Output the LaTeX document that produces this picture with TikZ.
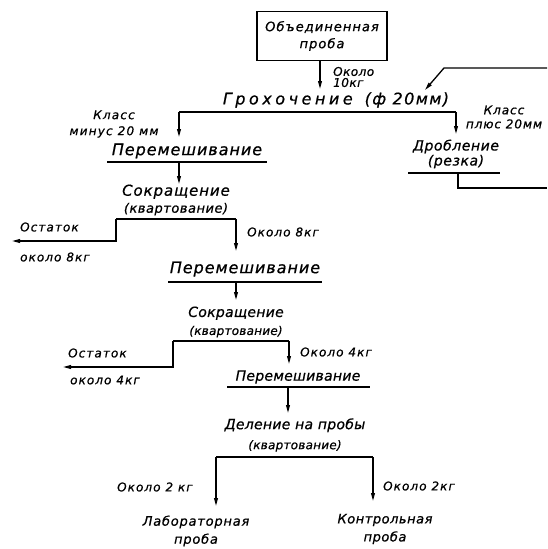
\documentclass[tikz,border=0pt]{standalone}
\usepackage{fontspec}
\setmainfont{DejaVu Sans}[ItalicFeatures={FakeBold=0.7}]
\usetikzlibrary{arrows.meta}
\tikzset{
  big/.style={font=\fontsize{16}{17}\selectfont\itshape\addfontfeature{LetterSpace=6}, inner sep=0pt, align=center},
  mid/.style={font=\fontsize{13}{16}\selectfont\itshape\addfontfeature{LetterSpace=8}, inner sep=0pt, align=center},
  sml/.style={font=\fontsize{12}{12}\selectfont\itshape\addfontfeature{LetterSpace=9}, inner sep=0pt, align=left},
  conn/.style={line width=1.3pt},
  arr/.style={line width=1.3pt, -{Triangle[length=8pt,width=3.8pt]}},
  uline/.style={line width=2.2pt},
  boxst/.style={draw, line width=1.7pt, minimum width=130pt, minimum height=49pt, inner sep=0pt, align=center,
    font=\fontsize{13}{17}\selectfont\itshape\addfontfeature{LetterSpace=8}},
}
\begin{document}
\begin{tikzpicture}[x=1pt,y=-1pt]
\useasboundingbox[fill=white] (0,0) rectangle (547,549);
% source box
\node[boxst] (src) at (322,36) {Объединенная\\проба};
\node[sml, anchor=west, font=\fontsize{12}{11}\selectfont\itshape\addfontfeature{LetterSpace=4}] (ok10) at (333,77) {Около\\10кг};
\node[big] (grokh) at (336,100) {{\addfontfeature{LetterSpace=22}Грохочение}\hspace{12pt}{\addfontfeature{LetterSpace=9}(ф 20мм)}};
\coordinate (g1) at (320,61);
\coordinate (g2) at (320,89);
\draw[arr] (g1) -- (g2);
% screening line
\coordinate (gL) at (179,112);
\coordinate (gR) at (456,112);
\draw[conn] (gL) -- (gR);
\node[sml, align=center, font=\fontsize{12}{16}\selectfont\itshape\addfontfeature{LetterSpace=10}] (kmin) at (114,124) {Класс\\минус 20 мм};
\node[sml, align=center, font=\fontsize{12}{14}\selectfont\itshape\addfontfeature{LetterSpace=8}] (kplus) at (504,117) {Класс\\плюс 20мм};
% left branch
\node[big] (mix1) at (187,151) {Перемешивание};
\coordinate (m1a) at (107,162);
\coordinate (m1b) at (267,162);
\draw[uline] (m1a) -- (m1b);
\coordinate (a1) at (179,137);
\draw[arr] (gL) -- (a1);
\coordinate (m1c) at (179,162);
\coordinate (a2) at (179,184);
\draw[arr] (m1c) -- (a2);
% right branch: crushing
\coordinate (a3) at (456,134);
\draw[arr] (gR) -- (a3);
\node[mid, font=\fontsize{14}{15}\selectfont\itshape\addfontfeature{LetterSpace=4}] (drob) at (456,154) {Дробление\\(резка)};
\coordinate (d1) at (408,173);
\coordinate (d2) at (500,173);
\draw[uline] (d1) -- (d2);
\coordinate (d3) at (458,173);
\coordinate (d4) at (458,188);
\coordinate (d5) at (547,188);
\draw[conn] (d3) -- (d4) -- (d5);
\coordinate (r1) at (547,68);
\coordinate (r2) at (444,68);
\coordinate (r3) at (425,90);
\draw[arr] (r1) -- (r2) -- (r3);
% first reduction
\node[big, font=\fontsize{15}{17}\selectfont\itshape\addfontfeature{LetterSpace=6}] (sok1) at (176,200) {Сокращение\\{\fontsize{13}{13}\selectfont\addfontfeature{LetterSpace=4}(квартование)}};
\coordinate (s1L) at (116,219);
\coordinate (s1R) at (236,219);
\draw[conn] (s1L) -- (s1R);
\coordinate (s1c) at (116,241);
\coordinate (s1d) at (12,241);
\draw[arr] (s1L) -- (s1c) -- (s1d);
\node[sml, anchor=west] (ost1) at (20,227) {Остаток};
\node[sml, anchor=west] (ok8a) at (20,257) {около 8кг};
\coordinate (s1e) at (236,251);
\draw[arr] (s1R) -- (s1e);
\node[sml, anchor=west] (ok8b) at (247,232) {Около 8кг};
% second mixing
\node[big] (mix2) at (245,269) {Перемешивание};
\coordinate (m2a) at (168,282);
\coordinate (m2b) at (322,282);
\draw[uline] (m2a) -- (m2b);
\coordinate (m2c) at (236,282);
\coordinate (m2d) at (236,300);
\draw[arr] (m2c) -- (m2d);
% second reduction
\node[mid, font=\fontsize{14}{18}\selectfont\itshape\addfontfeature{LetterSpace=2}] (sok2) at (236,322) {Сокращение\\{\fontsize{12}{12}\selectfont\addfontfeature{LetterSpace=2}(квартование)}};
\coordinate (s2L) at (173,341);
\coordinate (s2R) at (289,341);
\draw[conn] (s2L) -- (s2R);
\coordinate (s2c) at (173,367);
\coordinate (s2d) at (63,367);
\draw[arr] (s2L) -- (s2c) -- (s2d);
\node[sml, anchor=west] (ost2) at (68,353) {Остаток};
\node[sml, anchor=west] (ok4a) at (70,380) {около 4кг};
\coordinate (s2e) at (289,364);
\draw[arr] (s2R) -- (s2e);
\node[sml, anchor=west] (ok4b) at (300,352) {Около 4кг};
% third mixing
\node[mid, font=\fontsize{14}{15}\selectfont\itshape\addfontfeature{LetterSpace=2}] (mix3) at (298,377) {Перемешивание};
\coordinate (m3a) at (227,387);
\coordinate (m3b) at (370,387);
\draw[uline] (m3a) -- (m3b);
\coordinate (m3c) at (288,387);
\coordinate (m3d) at (288,413);
\draw[arr] (m3c) -- (m3d);
% division
\node[mid, font=\fontsize{14}{20}\selectfont\itshape\addfontfeature{LetterSpace=2}] (del) at (295,435) {Деление на пробы\\{\fontsize{12}{12}\selectfont\addfontfeature{LetterSpace=2}(квартование)}};
\coordinate (dL) at (216,457);
\coordinate (dR) at (373,457);
\draw[conn] (dL) -- (dR);
\coordinate (dLe) at (216,506);
\coordinate (dRe) at (373,501);
\draw[arr] (dL) -- (dLe);
\draw[arr] (dR) -- (dRe);
\node[sml, anchor=west] (ok2a) at (117,487) {Около 2 кг};
\node[sml, anchor=west] (ok2b) at (383,486) {Около 2кг};
\node[mid, font=\fontsize{13}{18}\selectfont\itshape\addfontfeature{LetterSpace=6}] (lab) at (196,531) {Лабораторная\\проба};
\node[mid, font=\fontsize{13}{18}\selectfont\itshape\addfontfeature{LetterSpace=4}] (kon) at (385,529) {Контрольная\\проба};
\end{tikzpicture}
\end{document}
